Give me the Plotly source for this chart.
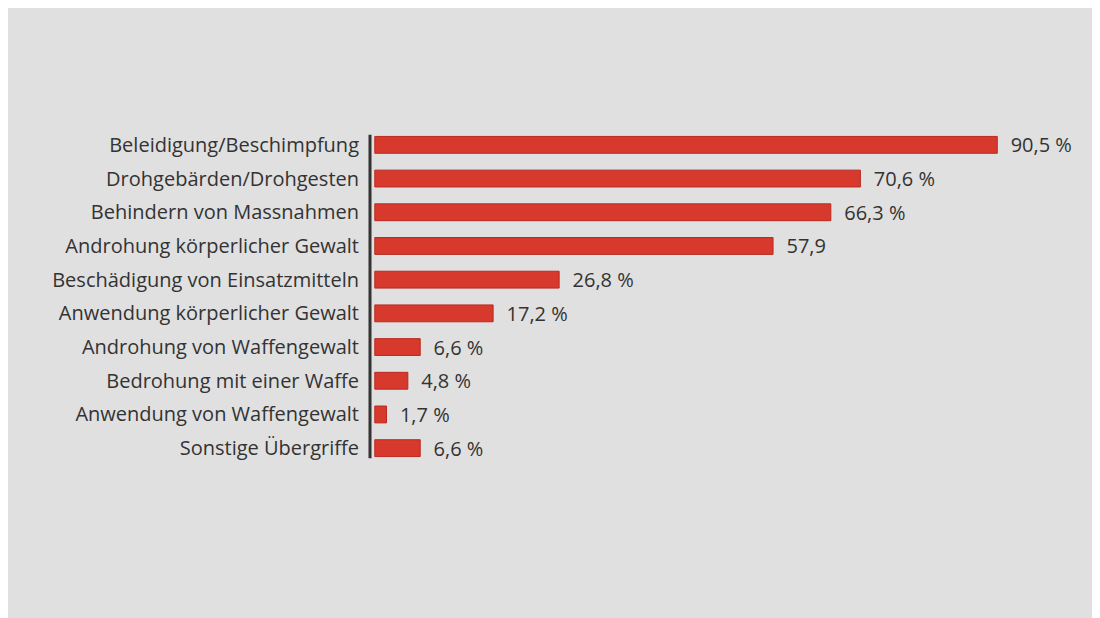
import plotly.graph_objects as go

categories = [
    "Beleidigung/Beschimpfung",
    "Drohgebärden/Drohgesten",
    "Behindern von Massnahmen",
    "Androhung körperlicher Gewalt",
    "Beschädigung von Einsatzmitteln",
    "Anwendung körperlicher Gewalt",
    "Androhung von Waffengewalt",
    "Bedrohung mit einer Waffe",
    "Anwendung von Waffengewalt",
    "Sonstige Übergriffe",
]
values = [90.5, 70.6, 66.3, 57.9, 26.8, 17.2, 6.6, 4.8, 1.7, 6.6]
labels = ["90,5 %", "70,6 %", "66,3 %", "57,9", "26,8 %", "17,2 %", "6,6 %", "4,8 %", "1,7 %", "6,6 %"]

fig = go.Figure()
fig.add_trace(go.Bar(
    x=values, y=categories, orientation="h",
    width=0.5,
    marker=dict(color="#d8392d", line=dict(color="#b82a20", width=1)),
    text=["  " + t for t in labels], textposition="outside", cliponaxis=False,
    constraintext="none",
    textfont=dict(size=20, color="#333333"),
))

# vertical axis line
fig.add_shape(type="line", xref="paper", yref="paper", x0=0, x1=0, y0=0.02, y1=0.98,
              line=dict(color="#333333", width=3))

fig.update_layout(
    width=1100, height=618,
    paper_bgcolor="#e0e0e0", plot_bgcolor="#e0e0e0",
    margin=dict(l=362, r=0, t=120, b=161),
    font=dict(family="Open Sans", size=20, color="#333333"),
    showlegend=False,
    xaxis=dict(range=[-0.7, 106.6], visible=False),
    yaxis=dict(autorange="reversed", showgrid=False, ticks="", ticklabelstandoff=10,
               tickfont=dict(size=20, color="#333333")),
)

fig.write_html("out.html")
